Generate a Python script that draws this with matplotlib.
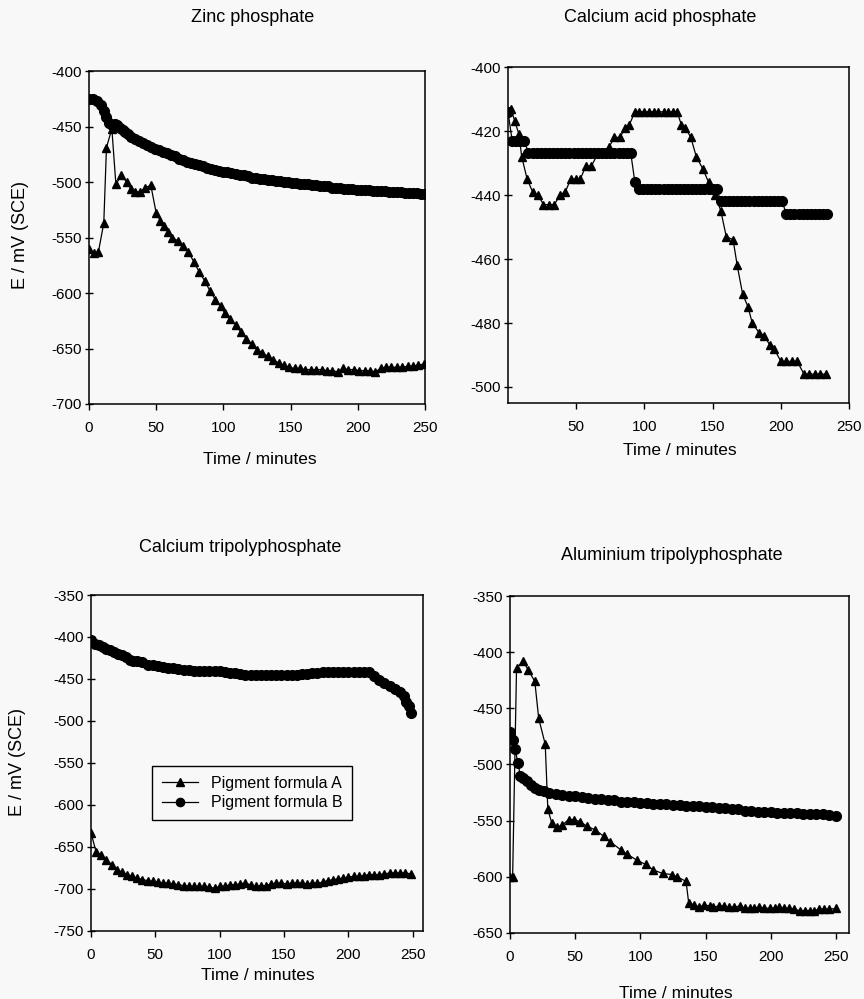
import matplotlib
matplotlib.use("Agg")
import matplotlib.pyplot as plt

plt.rcParams['font.family'] = ['Liberation Sans', 'DejaVu Sans']
plt.rcParams['axes.unicode_minus'] = False

# ---------------- data ----------------
# Zinc phosphate
t_zinc_A = [0, 4, 7, 11, 13, 17, 20, 24, 28, 31, 34, 38, 42, 46, 50, 53, 56, 59, 62, 66,
            70, 74, 78, 82, 86, 90, 94, 98, 101, 105, 109, 113, 117, 121, 125, 129, 133,
            137, 141, 145, 149, 153, 157, 161, 165, 169, 173, 177, 181, 185, 189, 193,
            197, 201, 205, 209, 213, 217, 221, 225, 229, 233, 237, 241, 245, 249]
e_zinc_A = [-560, -564, -563, -537, -469, -452, -502, -494, -500, -506, -509, -509, -505,
            -503, -528, -535, -540, -545, -550, -553, -558, -563, -572, -581, -589, -598,
            -606, -612, -618, -623, -629, -635, -641, -646, -651, -654, -657, -660, -663,
            -665, -667, -668, -668, -669, -669, -669, -669, -670, -670, -671, -668, -669,
            -669, -670, -670, -670, -671, -668, -667, -667, -667, -667, -666, -666, -665,
            -664]
t_zinc_B = [0, 3, 6, 9, 11, 13, 15, 17, 19, 21, 23, 25, 27, 29, 31, 34, 37, 40, 43, 46,
            49, 52, 55, 58, 61, 64, 67, 70, 73, 76, 79, 82, 85, 88, 91, 94, 97, 100, 103,
            106, 109, 112, 115, 118, 121, 124, 127, 130, 133, 136, 139, 142, 145, 148,
            151, 154, 157, 160, 163, 166, 169, 172, 175, 178, 181, 184, 187, 190, 193,
            196, 199, 202, 205, 208, 211, 214, 217, 220, 223, 226, 229, 232, 235, 238,
            241, 244, 247, 250]
e_zinc_B = [-425, -425, -427, -431, -436, -441, -447, -449, -448, -449, -451, -453, -455,
            -457, -459, -461, -463, -465, -467, -468, -470, -471, -473, -474, -476, -477,
            -479, -480, -482, -483, -484, -485, -486, -487, -488, -489, -490, -491, -491,
            -492, -493, -494, -494, -495, -496, -496, -497, -497, -498, -498, -499, -499,
            -500, -500, -501, -501, -502, -502, -502, -503, -503, -504, -504, -504, -505,
            -505, -505, -506, -506, -506, -507, -507, -507, -507, -508, -508, -508, -508,
            -509, -509, -509, -509, -510, -510, -510, -510, -511, -511]

# Calcium acid phosphate
t_acid_A = [2, 5, 8, 10, 14, 18, 22, 26, 30, 34, 38, 42, 46, 50, 53, 57, 61, 66, 70, 74,
            78, 82, 86, 89, 93, 96, 100, 103, 107, 110, 114, 117, 121, 124, 127, 130, 134,
            138, 143, 147, 150, 152, 156, 160, 165, 168, 172, 176, 179, 184, 188, 192,
            195, 200, 204, 208, 212, 217, 221, 225, 229, 233]
e_acid_A = [-413, -417, -421, -428, -435, -439, -440, -443, -443, -443, -440, -439, -435,
            -435, -435, -431, -431, -427, -427, -425, -422, -422, -419, -418, -414, -414,
            -414, -414, -414, -414, -414, -414, -414, -414, -418, -419, -422, -428, -432,
            -436, -438, -440, -445, -453, -454, -462, -471, -475, -480, -483, -484, -487,
            -488, -492, -492, -492, -492, -496, -496, -496, -496, -496]
t_acid_B = [0, 3, 6, 9, 12, 15, 18, 21, 24, 27, 30, 33, 36, 39, 42, 45, 48, 51, 54, 57,
            60, 63, 66, 69, 72, 75, 78, 81, 84, 87, 90, 93, 96, 99, 102, 105, 108, 111,
            114, 117, 120, 123, 126, 129, 132, 135, 138, 141, 144, 147, 150, 153, 156,
            159, 162, 165, 168, 171, 174, 177, 180, 183, 186, 189, 192, 195, 198, 201,
            204, 207, 210, 213, 216, 219, 222, 225, 228, 231, 234]
e_acid_B = [-414, -423, -423, -423, -423, -427, -427, -427, -427, -427, -427, -427, -427,
            -427, -427, -427, -427, -427, -427, -427, -427, -427, -427, -427, -427, -427,
            -427, -427, -427, -427, -427, -436, -438, -438, -438, -438, -438, -438, -438,
            -438, -438, -438, -438, -438, -438, -438, -438, -438, -438, -438, -438, -438,
            -442, -442, -442, -442, -442, -442, -442, -442, -442, -442, -442, -442, -442,
            -442, -442, -442, -446, -446, -446, -446, -446, -446, -446, -446, -446, -446,
            -446]

# Calcium tripolyphosphate
t_ctp_A = [0, 4, 8, 12, 16, 20, 24, 28, 32, 36, 40, 44, 48, 52, 56, 60, 64, 68, 72, 76,
           80, 84, 88, 92, 96, 100, 104, 108, 112, 116, 120, 124, 128, 132, 136, 140, 144,
           148, 152, 156, 160, 164, 168, 172, 176, 180, 184, 188, 192, 196, 200, 204, 208,
           212, 216, 220, 224, 228, 232, 236, 240, 244, 249]
e_ctp_A = [-633, -656, -660, -665, -671, -677, -680, -683, -685, -687, -689, -690, -691,
           -692, -693, -693, -694, -695, -696, -697, -697, -697, -697, -698, -699, -697,
           -697, -695, -695, -694, -693, -695, -697, -696, -696, -694, -693, -693, -694,
           -693, -693, -693, -694, -693, -693, -692, -690, -689, -688, -687, -686, -685,
           -685, -684, -683, -683, -683, -682, -681, -681, -681, -681, -682]
t_ctp_B = [0, 3, 6, 9, 12, 15, 18, 21, 24, 27, 30, 33, 36, 40, 44, 48, 52, 56, 60, 64, 68,
           72, 76, 80, 84, 88, 92, 96, 100, 104, 108, 112, 116, 120, 124, 128, 132, 136,
           140, 144, 148, 152, 156, 160, 164, 168, 172, 176, 180, 184, 188, 192, 196, 200,
           204, 208, 212, 216, 220, 224, 228, 232, 236, 240, 243, 245, 247, 249]
e_ctp_B = [-404, -408, -410, -412, -414, -416, -418, -420, -421, -424, -427, -428, -429,
           -430, -433, -433, -434, -436, -437, -437, -438, -439, -439, -440, -440, -440,
           -441, -441, -441, -442, -443, -443, -444, -445, -445, -445, -445, -445, -445,
           -445, -445, -445, -445, -445, -444, -444, -443, -443, -442, -442, -442, -442,
           -442, -442, -442, -442, -442, -442, -446, -451, -455, -458, -462, -466, -470,
           -477, -482, -491]

# Aluminium tripolyphosphate
t_atp_A = [0, 2, 5, 10, 14, 19, 22, 27, 29, 32, 36, 40, 45, 49, 54, 59, 65, 72, 77, 85,
           90, 97, 104, 110, 117, 124, 128, 135, 137, 141, 145, 149, 153, 156, 160, 164,
           168, 172, 176, 180, 184, 187, 191, 195, 199, 203, 206, 210, 214, 218, 222, 226,
           230, 233, 237, 241, 245, 250]
e_atp_A = [-600, -600, -414, -408, -416, -426, -459, -482, -540, -552, -556, -554, -549,
           -549, -551, -555, -558, -564, -569, -576, -580, -585, -589, -594, -597, -598,
           -600, -604, -623, -625, -627, -625, -626, -627, -626, -626, -627, -627, -626,
           -628, -628, -628, -627, -628, -628, -628, -627, -628, -628, -629, -630, -630,
           -630, -630, -629, -629, -629, -628]
t_atp_B = [0, 2, 4, 6, 8, 10, 13, 16, 19, 22, 26, 30, 35, 40, 45, 50, 55, 60, 65, 70, 75,
           80, 85, 90, 95, 100, 105, 110, 115, 120, 125, 130, 135, 140, 145, 150, 155, 160,
           165, 170, 175, 180, 185, 190, 195, 200, 205, 210, 215, 220, 225, 230, 235, 240,
           245, 250]
e_atp_B = [-471, -478, -486, -499, -510, -512, -515, -518, -521, -523, -524, -525, -526,
           -527, -528, -528, -529, -530, -531, -531, -532, -532, -533, -533, -533, -534,
           -534, -535, -535, -535, -536, -536, -537, -537, -537, -538, -538, -539, -539,
           -540, -540, -541, -541, -542, -542, -542, -543, -543, -543, -543, -544, -544,
           -544, -544, -545, -546]

panels = [
    # title, A, B, position, ylim, yticks, xlim, xticks
    ("Zinc phosphate", (t_zinc_A, e_zinc_A), (t_zinc_B, e_zinc_B),
     [0.103, 0.5956, 0.389, 0.3333], (-700, -400), range(-700, -399, 50),
     (0, 250), range(0, 251, 50)),
    ("Calcium acid phosphate", (t_acid_A, e_acid_A), (t_acid_B, e_acid_B),
     [0.588, 0.5966, 0.3947, 0.3363], (-505, -400), range(-500, -399, 20),
     (0, 250), range(50, 251, 50)),
    ("Calcium tripolyphosphate", (t_ctp_A, e_ctp_A), (t_ctp_B, e_ctp_B),
     [0.1053, 0.0681, 0.3843, 0.3363], (-750, -350), range(-750, -349, 50),
     (0, 258), range(0, 251, 50)),
    ("Aluminium tripolyphosphate", (t_atp_A, e_atp_A), (t_atp_B, e_atp_B),
     [0.5903, 0.0661, 0.3924, 0.3373], (-650, -350), range(-650, -349, 50),
     (0, 260), range(0, 251, 50)),
]

bg = '#f8f8f8'
fig = plt.figure(figsize=(8.64, 9.99), dpi=100, facecolor=bg)

W, H = 864.0, 999.0
def fx(px):
    return px / W
def fy(py):
    return 1 - py / H

axes = []
for title, A, B, pos, ylim, yt, xlim, xt in panels:
    ax = fig.add_axes(pos, facecolor=bg)
    ax.plot(A[0], A[1], 'k-', lw=0.9, marker='^', ms=6.2, label='Pigment formula A')
    ax.plot(B[0], B[1], 'k-', lw=0.9, marker='o', ms=7, label='Pigment formula B')
    ax.set_xlim(*xlim)
    ax.set_ylim(*ylim)
    ax.set_xticks(list(xt))
    ax.set_yticks(list(yt))
    ax.tick_params(axis='x', direction='out', length=4, width=1, pad=8, labelsize=11)
    ax.tick_params(axis='y', direction='inout', length=6, width=1, pad=2, labelsize=11)
    for s in ax.spines.values():
        s.set_linewidth(1.1)
        s.set_color('black')
    axes.append(ax)

# panel titles
title_font = ['Liberation Sans Narrow', 'Liberation Sans']
fig.text(fx(253), fy(18), "Zinc phosphate", ha='center', va='center', fontsize=13,
         family=title_font)
fig.text(fx(660), fy(18), "Calcium acid phosphate", ha='center', va='center', fontsize=13,
         family=title_font)
fig.text(fx(240), fy(548), "Calcium tripolyphosphate", ha='center', va='center', fontsize=13,
         family=title_font)
fig.text(fx(672), fy(555), "Aluminium tripolyphosphate", ha='center', va='center', fontsize=13,
         family=title_font)

# axis titles
fig.text(fx(260), fy(459), "Time / minutes", ha='center', va='center', fontsize=12.5)
fig.text(fx(680), fy(450), "Time / minutes", ha='center', va='center', fontsize=12.5)
fig.text(fx(258), fy(976), "Time / minutes", ha='center', va='center', fontsize=12.5)
fig.text(fx(676), fy(993), "Time / minutes", ha='center', va='center', fontsize=12.5)
fig.text(fx(21), fy(235), "E / mV (SCE)", ha='center', va='center', rotation=90, fontsize=13)
fig.text(fx(18), fy(762), "E / mV (SCE)", ha='center', va='center', rotation=90, fontsize=13)

leg = axes[2].legend(loc='upper left', bbox_to_anchor=(0.16, 0.515), fontsize=11.5,
                     frameon=True, fancybox=False, edgecolor='black', facecolor=bg,
                     handlelength=2.3, borderpad=0.6, labelspacing=0.3, framealpha=1,
                     markerscale=0.85)
leg.get_frame().set_linewidth(1.0)

fig.savefig('out.png', dpi=100, facecolor=bg)
